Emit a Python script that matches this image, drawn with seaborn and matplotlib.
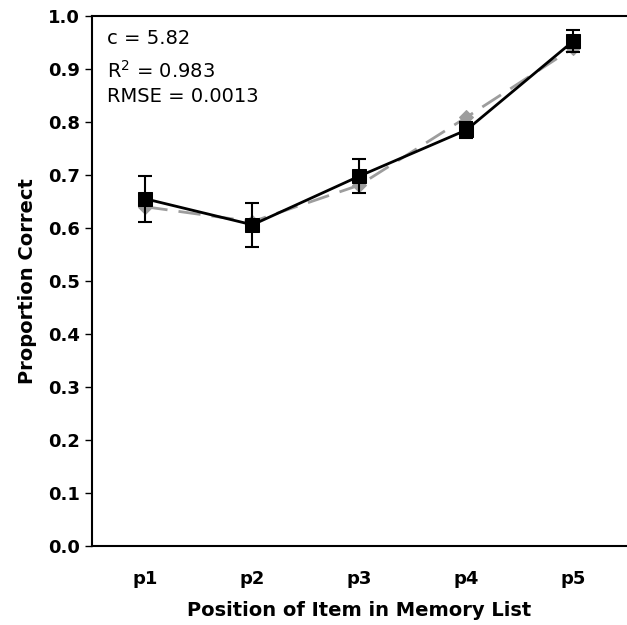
import numpy as np
import pandas as pd
import matplotlib
matplotlib.use("Agg")
import matplotlib.pyplot as plt
import seaborn as sns

# === Data ===
positions = ["p1", "p2", "p3", "p4", "p5"]
observed = [0.655, 0.606, 0.698, 0.785, 0.953]
observed_err = [0.044, 0.042, 0.032, 0.015, 0.020]
model = [0.640, 0.612, 0.681, 0.809, 0.940]
fit_lines = ["c = 5.82", "R$^2$ = 0.983", "RMSE = 0.0013"]

df = pd.DataFrame({"pos": np.arange(len(positions)), "observed": observed, "model": model})

# === Style ===
sns.set_style("white")
plt.rcParams["font.family"] = ["DejaVu Sans"]
plt.rcParams["text.color"] = "black"
plt.rcParams["axes.labelcolor"] = "black"
plt.rcParams["xtick.color"] = "black"
plt.rcParams["ytick.color"] = "black"

fig = plt.figure(figsize=(6.27, 6.25), dpi=100)
ax = fig.add_axes([0.1467, 0.1264, 0.8533, 0.848])

# model predictions (grey dashed, diamonds)
sns.lineplot(data=df, x="pos", y="model", ax=ax, color="#9d9d9d", linewidth=2,
             linestyle=(0, (8, 4)), marker="D", markersize=7, markeredgecolor="#9d9d9d",
             zorder=2)
# observed data (black, squares) with error bars
ax.errorbar(df["pos"], df["observed"], yerr=observed_err, fmt="none", ecolor="black",
            elinewidth=1.5, capsize=5, capthick=1.5, zorder=3)
sns.lineplot(data=df, x="pos", y="observed", ax=ax, color="black", linewidth=2,
             marker="s", markersize=9.5, markeredgecolor="black", zorder=4)

# === Axes ===
ax.set_xlim(-0.5, len(positions) - 0.5)
ax.set_ylim(0, 1.0)
ax.set_xticks(df["pos"])
ax.set_xticklabels(positions, fontsize=13, fontweight="bold")
ax.set_xticks(np.arange(-0.5, len(positions), 1.0), minor=True)
ax.tick_params(axis="x", which="major", length=0, pad=17)
ax.tick_params(axis="x", which="minor", length=6, width=1, direction="out", color="black")
ax.set_yticks(np.arange(0, 1.01, 0.1))
ax.set_yticklabels([f"{v:.1f}" for v in np.arange(0, 1.01, 0.1)], fontsize=13, fontweight="bold")
ax.tick_params(axis="y", length=5, width=1, direction="out", color="black", left=True)

for side in ["left", "bottom", "top"]:
    ax.spines[side].set_visible(True)
    ax.spines[side].set_color("black")
    ax.spines[side].set_linewidth(1.5)
ax.spines["right"].set_visible(False)

ax.set_xlabel("Position of Item in Memory List", fontsize=14, fontweight="bold", labelpad=10)
ax.set_ylabel("Proportion Correct", fontsize=14, fontweight="bold", labelpad=8)

# fit statistics
ax.text(0.028, 0.958, fit_lines[0], transform=ax.transAxes, fontsize=14, va="center")
ax.text(0.028, 0.896, fit_lines[1], transform=ax.transAxes, fontsize=14, va="center")
ax.text(0.028, 0.849, fit_lines[2], transform=ax.transAxes, fontsize=14, va="center")

fig.savefig("out.png", dpi=100)
plt.close(fig)
